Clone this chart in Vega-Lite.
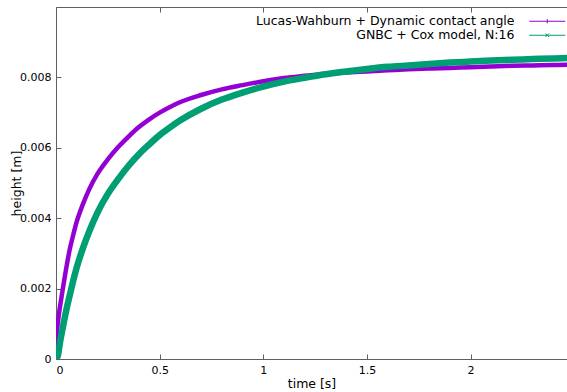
{
  "$schema": "https://vega.github.io/schema/vega-lite/v6.json",
  "width": 511,
  "height": 352,
  "autosize": {"type": "none"},
  "padding": {"left": 56, "top": 7, "right": 0, "bottom": 33},
  "config": {
    "font": "DejaVu Sans",
    "view": {"stroke": null},
    "axis": {
      "domainColor": "#606060",
      "tickColor": "#606060",
      "tickSize": -5,
      "labelPadding": 10,
      "labelFontSize": 11,
      "labelColor": "#000000",
      "titleFontSize": 12.5,
      "titleFontWeight": "normal",
      "titleColor": "#000000",
      "grid": false
    }
  },
  "data": {
    "values": [
      {"model": "Lucas-Wahburn + Dynamic contact angle", "t": 0, "h": 0},
      {"model": "Lucas-Wahburn + Dynamic contact angle", "t": 0.004, "h": 0.0007},
      {"model": "Lucas-Wahburn + Dynamic contact angle", "t": 0.01, "h": 0.00108},
      {"model": "Lucas-Wahburn + Dynamic contact angle", "t": 0.017, "h": 0.0014},
      {"model": "Lucas-Wahburn + Dynamic contact angle", "t": 0.025, "h": 0.0017},
      {"model": "Lucas-Wahburn + Dynamic contact angle", "t": 0.033, "h": 0.002},
      {"model": "Lucas-Wahburn + Dynamic contact angle", "t": 0.05, "h": 0.0026},
      {"model": "Lucas-Wahburn + Dynamic contact angle", "t": 0.065, "h": 0.00308},
      {"model": "Lucas-Wahburn + Dynamic contact angle", "t": 0.08, "h": 0.00345},
      {"model": "Lucas-Wahburn + Dynamic contact angle", "t": 0.1, "h": 0.0039},
      {"model": "Lucas-Wahburn + Dynamic contact angle", "t": 0.13, "h": 0.0044},
      {"model": "Lucas-Wahburn + Dynamic contact angle", "t": 0.16, "h": 0.00482},
      {"model": "Lucas-Wahburn + Dynamic contact angle", "t": 0.2, "h": 0.00526},
      {"model": "Lucas-Wahburn + Dynamic contact angle", "t": 0.25, "h": 0.00567},
      {"model": "Lucas-Wahburn + Dynamic contact angle", "t": 0.3, "h": 0.00602},
      {"model": "Lucas-Wahburn + Dynamic contact angle", "t": 0.35, "h": 0.00632},
      {"model": "Lucas-Wahburn + Dynamic contact angle", "t": 0.4, "h": 0.00659},
      {"model": "Lucas-Wahburn + Dynamic contact angle", "t": 0.45, "h": 0.00681},
      {"model": "Lucas-Wahburn + Dynamic contact angle", "t": 0.5, "h": 0.007},
      {"model": "Lucas-Wahburn + Dynamic contact angle", "t": 0.55, "h": 0.00716},
      {"model": "Lucas-Wahburn + Dynamic contact angle", "t": 0.6, "h": 0.0073},
      {"model": "Lucas-Wahburn + Dynamic contact angle", "t": 0.7, "h": 0.0075},
      {"model": "Lucas-Wahburn + Dynamic contact angle", "t": 0.8, "h": 0.00766},
      {"model": "Lucas-Wahburn + Dynamic contact angle", "t": 0.9, "h": 0.00778},
      {"model": "Lucas-Wahburn + Dynamic contact angle", "t": 1.0, "h": 0.00789},
      {"model": "Lucas-Wahburn + Dynamic contact angle", "t": 1.1, "h": 0.00798},
      {"model": "Lucas-Wahburn + Dynamic contact angle", "t": 1.2, "h": 0.00805},
      {"model": "Lucas-Wahburn + Dynamic contact angle", "t": 1.3, "h": 0.0081},
      {"model": "Lucas-Wahburn + Dynamic contact angle", "t": 1.4, "h": 0.00814},
      {"model": "Lucas-Wahburn + Dynamic contact angle", "t": 1.5, "h": 0.00817},
      {"model": "Lucas-Wahburn + Dynamic contact angle", "t": 1.6, "h": 0.0082},
      {"model": "Lucas-Wahburn + Dynamic contact angle", "t": 1.7, "h": 0.00823},
      {"model": "Lucas-Wahburn + Dynamic contact angle", "t": 1.8, "h": 0.00825},
      {"model": "Lucas-Wahburn + Dynamic contact angle", "t": 1.9, "h": 0.00827},
      {"model": "Lucas-Wahburn + Dynamic contact angle", "t": 2.0, "h": 0.00829},
      {"model": "Lucas-Wahburn + Dynamic contact angle", "t": 2.1, "h": 0.00831},
      {"model": "Lucas-Wahburn + Dynamic contact angle", "t": 2.2, "h": 0.00833},
      {"model": "Lucas-Wahburn + Dynamic contact angle", "t": 2.3, "h": 0.00834},
      {"model": "Lucas-Wahburn + Dynamic contact angle", "t": 2.4, "h": 0.00835},
      {"model": "Lucas-Wahburn + Dynamic contact angle", "t": 2.465, "h": 0.00836},
      {"model": "GNBC + Cox model, N:16", "t": 0, "h": 0},
      {"model": "GNBC + Cox model, N:16", "t": 0.009, "h": 0.0001},
      {"model": "GNBC + Cox model, N:16", "t": 0.02, "h": 0.0005},
      {"model": "GNBC + Cox model, N:16", "t": 0.033, "h": 0.0009},
      {"model": "GNBC + Cox model, N:16", "t": 0.05, "h": 0.0014},
      {"model": "GNBC + Cox model, N:16", "t": 0.065, "h": 0.00178},
      {"model": "GNBC + Cox model, N:16", "t": 0.08, "h": 0.00215},
      {"model": "GNBC + Cox model, N:16", "t": 0.1, "h": 0.0026},
      {"model": "GNBC + Cox model, N:16", "t": 0.13, "h": 0.00315},
      {"model": "GNBC + Cox model, N:16", "t": 0.16, "h": 0.00362},
      {"model": "GNBC + Cox model, N:16", "t": 0.2, "h": 0.00416},
      {"model": "GNBC + Cox model, N:16", "t": 0.25, "h": 0.00469},
      {"model": "GNBC + Cox model, N:16", "t": 0.3, "h": 0.00511},
      {"model": "GNBC + Cox model, N:16", "t": 0.35, "h": 0.00549},
      {"model": "GNBC + Cox model, N:16", "t": 0.4, "h": 0.00582},
      {"model": "GNBC + Cox model, N:16", "t": 0.45, "h": 0.0061},
      {"model": "GNBC + Cox model, N:16", "t": 0.5, "h": 0.00636},
      {"model": "GNBC + Cox model, N:16", "t": 0.55, "h": 0.00658},
      {"model": "GNBC + Cox model, N:16", "t": 0.6, "h": 0.00678},
      {"model": "GNBC + Cox model, N:16", "t": 0.7, "h": 0.00711},
      {"model": "GNBC + Cox model, N:16", "t": 0.8, "h": 0.00737},
      {"model": "GNBC + Cox model, N:16", "t": 0.9, "h": 0.00757},
      {"model": "GNBC + Cox model, N:16", "t": 1.0, "h": 0.00774},
      {"model": "GNBC + Cox model, N:16", "t": 1.1, "h": 0.00788},
      {"model": "GNBC + Cox model, N:16", "t": 1.2, "h": 0.00799},
      {"model": "GNBC + Cox model, N:16", "t": 1.3, "h": 0.00809},
      {"model": "GNBC + Cox model, N:16", "t": 1.4, "h": 0.00817},
      {"model": "GNBC + Cox model, N:16", "t": 1.5, "h": 0.00824},
      {"model": "GNBC + Cox model, N:16", "t": 1.6, "h": 0.0083},
      {"model": "GNBC + Cox model, N:16", "t": 1.7, "h": 0.00834},
      {"model": "GNBC + Cox model, N:16", "t": 1.8, "h": 0.00838},
      {"model": "GNBC + Cox model, N:16", "t": 1.9, "h": 0.00842},
      {"model": "GNBC + Cox model, N:16", "t": 2.0, "h": 0.00845},
      {"model": "GNBC + Cox model, N:16", "t": 2.1, "h": 0.00848},
      {"model": "GNBC + Cox model, N:16", "t": 2.2, "h": 0.0085},
      {"model": "GNBC + Cox model, N:16", "t": 2.3, "h": 0.00852},
      {"model": "GNBC + Cox model, N:16", "t": 2.4, "h": 0.00854},
      {"model": "GNBC + Cox model, N:16", "t": 2.465, "h": 0.00855}
    ]
  },
  "resolve": {"axis": {"x": "independent"}},
  "layer": [
    {
      "transform": [{"filter": "datum.model == 'Lucas-Wahburn + Dynamic contact angle'"}],
      "mark": {"type": "line", "strokeWidth": 4.5, "strokeCap": "round", "interpolate": "monotone", "clip": true},
      "encoding": {
        "x": {"field": "t", "type": "quantitative", "scale": {"domain": [0, 2.465], "nice": false},
          "axis": {"title": "time [s]", "values": [0, 0.5, 1, 1.5, 2], "format": ".1~f", "titlePadding": 2}},
        "y": {"field": "h", "type": "quantitative", "scale": {"domain": [0, 0.01], "nice": false},
          "axis": {"title": "height [m]", "values": [0, 0.002, 0.004, 0.006, 0.008], "format": ".3~f", "titlePadding": -4}},
        "color": {"field": "model", "type": "nominal",
          "scale": {"domain": ["Lucas-Wahburn + Dynamic contact angle", "GNBC + Cox model, N:16"], "range": ["#9400d3", "#009e73"]},
          "legend": {
            "title": null,
            "orient": "none",
            "legendX": 485,
            "legendY": 8,
            "padding": 0,
            "labelFontSize": 12.5,
            "labelColor": "#000000",
            "labelAlign": "right",
            "labelOffset": -39,
            "labelLimit": 500,
            "rowPadding": 1,
            "symbolStrokeWidth": 1,
            "symbolSize": 36,
            "symbolType": "M-6,0H6",
            "encode": {
              "symbols": {"update": {"shape": {"signal": "datum.value == 'GNBC + Cox model, N:16' ? 'M-6,0H6M-0.6,-0.6L0.6,0.6M-0.6,0.6L0.6,-0.6' : 'M-6,0H6M0,-0.7V0.7'"}}}
            }
          }
        }
      }
    },
    {
      "transform": [{"filter": "datum.model == 'GNBC + Cox model, N:16'"}],
      "mark": {"type": "line", "strokeWidth": 6.5, "strokeCap": "round", "interpolate": "monotone", "clip": true},
      "encoding": {
        "x": {"field": "t", "type": "quantitative",
          "axis": {"orient": "top", "title": null, "labels": false, "values": [0, 0.5, 1, 1.5, 2]}},
        "y": {"field": "h", "type": "quantitative"},
        "color": {"field": "model", "type": "nominal"}
      }
    }
  ]
}
